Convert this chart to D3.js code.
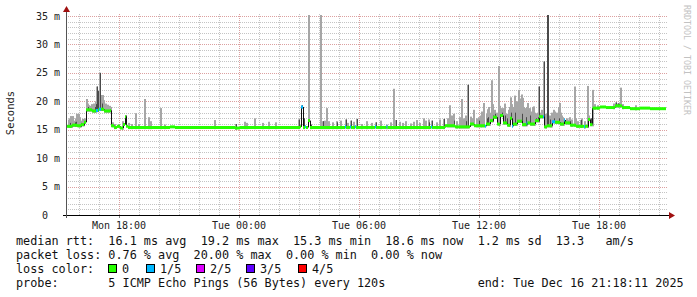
<!DOCTYPE html>
<html>
<head>
<meta charset="utf-8">
<script src="https://cdn.jsdelivr.net/npm/d3@7"></script>
<style>
  body { margin: 0; background: #fff; }
  text { font-family: "DejaVu Sans Mono", monospace; white-space: pre; }
</style>
</head>
<body>
<div id="chart"></div>
<script>
// time is in hours since Mon 00:00 (so 30 = Tue 06:00)
const timeStart = 15.35, timeEnd = 45.35;
const tickHours = [18, 24, 30, 36, 42];
const tickLabels = ["Mon 18:00", "Tue 00:00", "Tue 06:00", "Tue 12:00", "Tue 18:00"];
const yTicks = [0, 5, 10, 15, 20, 25, 30, 35];

// median rtt (ms), step series, with loss count out of 5 pings
const medianHours = [15.35, 15.65, 15.9, 16.1, 16.25, 16.35, 16.65, 16.85, 16.95, 17.0, 17.1, 17.25, 17.55, 17.6, 17.75, 17.9, 18.05, 18.2, 18.3, 18.35, 18.45,
  20.55, 20.8, 23.8, 24.05, 27.05, 27.1, 27.2, 27.3, 27.35, 27.45, 27.55, 29.3, 29.35, 29.55, 29.6, 29.8, 29.85,
  30.8, 30.85, 31.375, 31.425, 33.6, 33.65, 34.3, 34.8, 35.55, 35.75, 36.3, 36.35, 36.55, 36.7, 36.9, 37.05, 37.2, 37.4, 37.55, 37.65, 37.7, 37.9,
  38.15, 38.375, 38.425, 38.55, 38.8, 39.0, 39.2, 39.25, 39.4, 39.65, 39.8, 40.05, 40.25, 40.3, 40.55, 40.85, 41.25, 41.3, 41.45, 41.55,
  41.675, 42.05, 42.35, 42.8, 43.15, 43.55, 44.05, 44.55, 45.35];
const medianMs = [15.6, 15.8, 15.7, 15.9, 16.3, 18.5, 18.3, 18.4, 18.5, 18.6, 18.6, 18.3, 18.4, 15.7, 15.4, 15.6, 15.3, 15.9, 17.3, 15.6, 15.4,
  15.5, 15.4, 15.3, 15.4, 15.5, 19.0, 15.4, 15.5, 15.4, 16.6, 15.4, 15.5, 15.4, 15.5, 15.4, 15.5, 15.4,
  15.5, 15.4, 15.5, 15.4, 15.5, 15.4, 15.7, 15.5, 16.0, 15.7, 15.6, 16.0, 16.6, 17.2, 16.0, 17.5, 16.2, 15.8, 17.0, 15.6, 16.0, 16.5,
  15.9, 16.2, 16.2, 16.0, 16.6, 17.3, 17.3, 15.5, 15.7, 16.4, 16.3, 16.0, 16.7, 16.2, 15.8, 15.6, 15.5, 15.6, 16.8, 15.9,
  18.8, 19.0, 18.9, 19.2, 18.9, 18.7, 18.8, 18.7, 18.7];
const medianLoss = [0, 0, 0, 0, 0, 0, 0, 1, 0, 1, 0, 0, 0, 0, 0, 0, 0, 0, 0, 0, 0,
  0, 0, 0, 0, 0, 1, 0, 1, 0, 0, 0, 1, 0, 1, 0, 1, 0,
  1, 0, 1, 0, 1, 0, 0, 0, 0, 0, 1, 0, 0, 0, 0, 0, 0, 0, 0, 1, 0, 0,
  0, 1, 0, 0, 0, 0, 1, 0, 0, 1, 0, 0, 1, 0, 0, 0, 1, 0, 0, 0,
  0, 0, 0, 0, 0, 0, 0, 0, 0];

// smoke: highest ping (light grey) and upper inner pings (dark grey, 0 = none)
const smokeHours = [15.45, 15.55, 15.65, 15.75, 15.85, 15.95, 16.05, 16.15, 16.25, 16.35, 16.45, 16.55, 16.65, 16.75, 16.85, 16.9, 17.0, 17.05, 17.15, 17.25,
  17.35, 17.45, 17.55, 17.65, 17.75, 17.95, 18.15, 18.3, 18.45, 18.6, 18.8, 18.95, 19.25, 19.45, 19.55, 20.05, 20.25, 22.75, 23.8, 24.25,
  24.35, 24.75, 25.15, 25.45, 25.8, 26.95, 27.1, 27.2, 27.45, 27.55, 28.05, 28.15, 28.35, 28.45, 28.65, 29.05, 29.3, 29.55, 29.85, 30.1,
  30.35, 30.8, 31.05, 31.35, 31.7, 31.8, 32.0, 32.3, 32.55, 32.85, 33.0, 33.2, 33.6, 33.85, 34.2, 34.5, 34.6, 34.85, 35.1, 35.2,
  35.4, 35.55, 35.7, 35.85, 36.05, 36.2, 36.35, 36.5, 36.6, 36.75, 36.85, 36.95, 37.1, 37.2, 37.35, 37.45, 37.55, 37.7, 37.85, 37.95,
  38.05, 38.15, 38.3, 38.4, 38.55, 38.7, 38.8, 38.95, 39.05, 39.2, 39.4, 39.55, 39.7, 39.85, 40.0, 40.15, 40.25, 40.45, 40.75, 40.9,
  41.05, 41.25, 41.4, 41.55, 41.65, 41.75, 41.9, 42.8, 42.9, 43.05, 43.15, 43.8,
  15.5, 15.6, 15.7, 15.8, 16.0, 16.2, 16.4, 16.5, 16.6, 16.7, 16.8, 17.1, 17.2, 17.3, 17.4, 17.5,
  36.1, 36.4, 36.45, 36.65, 37.0, 37.25, 37.5, 37.6, 37.75, 37.8, 38.0, 38.1, 38.2, 38.25, 38.35, 38.5, 38.6, 38.65, 38.75, 38.85,
  38.9, 39.1, 39.3, 39.5, 39.6, 39.75, 39.9, 39.95, 40.05, 40.1, 40.2, 40.35, 40.5, 40.6, 40.8, 41.1, 41.45,
  34.0, 34.4, 34.7, 35.0, 35.3, 35.6, 35.95, 33.3, 33.45, 32.7, 32.15, 31.55, 30.6, 29.7, 29.4, 28.85, 28.25, 42.7, 42.95, 43.0];
const smokeMax = [16.8, 17.4, 17.4, 16.3, 17.8, 17.8, 16.6, 16.9, 17.0, 20.4, 19.3, 19.0, 18.9, 19.3, 22.6, 21.8, 25.0, 21.1, 21.1, 19.5,
  19.2, 19.0, 19.0, 16.3, 16.0, 16.0, 16.5, 17.5, 16.2, 16.0, 17.9, 16.0, 20.4, 17.2, 16.5, 18.8, 15.9, 16.7, 16.0, 16.4,
  16.2, 17.0, 16.2, 16.4, 16.3, 16.8, 19.3, 17.0, 35.5, 15.9, 35.5, 16.5, 18.8, 16.5, 16.3, 16.6, 16.8, 16.6, 16.9, 16.0,
  16.5, 16.3, 16.6, 15.9, 22.2, 16.7, 16.4, 16.5, 16.1, 16.7, 16.2, 17.0, 16.6, 16.3, 16.9, 19.3, 17.5, 16.5, 20.4, 17.0,
  22.9, 17.3, 18.5, 17.0, 17.5, 19.7, 17.8, 18.0, 23.7, 18.5, 18.0, 26.2, 18.8, 18.8, 17.8, 18.5, 20.7, 19.0, 20.0, 22.0,
  20.0, 20.6, 18.5, 19.7, 18.2, 19.1, 17.5, 22.6, 18.0, 27.0, 35.5, 17.2, 18.5, 18.0, 19.7, 17.2, 16.7, 16.8, 22.6, 16.5,
  16.7, 16.5, 22.7, 17.0, 22.0, 19.5, 19.3, 19.8, 19.6, 22.4, 19.5, 19.3,
  17.0, 17.0, 16.6, 17.0, 17.2, 16.8, 19.6, 19.2, 19.5, 19.6, 20.0, 20.5, 20.2, 19.6, 19.4, 19.2,
  18.2, 18.6, 19.0, 19.5, 19.2, 19.6, 19.0, 19.5, 21.0, 19.8, 20.5, 21.2, 19.0, 18.8, 19.0, 18.8, 18.0, 19.0, 18.0, 17.8,
  18.0, 18.5, 17.8, 17.5, 18.0, 18.2, 17.8, 19.0, 18.0, 17.5, 17.0, 17.0, 17.2, 16.8, 17.0, 17.0, 17.5,
  16.8, 17.0, 17.8, 17.2, 17.5, 17.0, 17.2, 16.6, 16.8, 16.4, 16.2, 16.3, 16.2, 16.4, 16.2, 16.5, 16.6, 19.6, 19.7, 19.5];
const smokeDark = [0, 0, 0, 16.3, 0, 0, 16.2, 0, 0, 0, 0, 0, 0, 19.0, 22.6, 21.8, 25.0, 0, 0, 0,
  0, 0, 0, 0, 0, 0, 0, 17.5, 0, 0, 0, 0, 0, 0, 0, 0, 0, 0, 16.0, 0,
  0, 0, 0, 0, 0, 16.8, 19.3, 17.0, 0, 15.9, 0, 16.5, 0, 0, 0, 0, 16.8, 16.6, 16.9, 0,
  0, 16.3, 0, 0, 0, 16.7, 0, 0, 0, 0, 0, 0, 16.6, 0, 16.9, 0, 0, 0, 0, 0,
  22.9, 0, 0, 0, 0, 0, 17.0, 0, 0, 17.8, 0, 0, 18.0, 0, 17.0, 0, 18.0, 0, 0, 0,
  0, 0, 17.2, 0, 0, 0, 17.0, 22.6, 0, 27.0, 35.5, 0, 17.0, 0, 0, 0, 16.7, 0, 0, 0,
  16.7, 0, 17.0, 17.0, 0, 0, 0, 19.8, 19.6, 0, 0, 0,
  16.2, 0, 0, 16.4, 0, 16.5, 19.0, 0, 0, 0, 19.5, 19.6, 0, 0, 0, 0,
  0, 17.2, 0, 17.5, 0, 17.5, 0, 0, 18.0, 0, 0, 17.8, 0, 0, 0, 17.5, 0, 0, 0, 0,
  17.2, 0, 0, 16.8, 0, 0, 0, 17.0, 0, 0, 0, 0, 16.5, 0, 0, 0, 16.8,
  0, 0, 16.6, 0, 16.5, 0, 16.6, 0, 16.3, 0, 0, 0, 0, 0, 0, 16.3, 0, 0, 19.5, 0];

const lossColors = ["#26ff00", "#00b8ff", "#dd00ff", "#5e00ff", "#ff0000"];
const lossNames = ["0", "1/5", "2/5", "3/5", "4/5"];

const legendLines = [
  "median rtt:  16.1 ms avg  19.2 ms max  15.3 ms min  18.6 ms now  1.2 ms sd  13.3   am/s",
  "packet loss: 0.76 % avg  20.00 % max  0.00 % min  0.00 % now",
  "loss color:",
  "probe:       5 ICMP Echo Pings (56 Bytes) every 120s             end: Tue Dec 16 21:18:11 2025"
];

const W = 697, H = 297;
const pL = 66, pR = 666, pT = 16, pB = 215;

const svg = d3.select("#chart").append("svg")
  .attr("width", W).attr("height", H);

svg.append("rect").attr("width", W).attr("height", H).attr("fill", "#fff");

const x = d3.scaleLinear().domain([timeStart, timeEnd]).range([pL, pR]);
const y = d3.scaleLinear().domain([0, 35]).range([pB, pT]);

// grid
const minorY = d3.range(1, 36).filter(v => v % 5 !== 0);
const minorX = d3.range(16, 46).filter(h => h % 6 !== 0);

svg.append("g")
  .selectAll("line").data(minorY).join("line")
  .attr("x1", pL).attr("x2", pR + 2)
  .attr("y1", d => Math.round(y(d)) + 0.5).attr("y2", d => Math.round(y(d)) + 0.5)
  .attr("stroke", "#c4c4c4").attr("stroke-dasharray", "1,1");
svg.append("g")
  .selectAll("line").data(minorX).join("line")
  .attr("x1", d => Math.round(x(d)) + 0.5).attr("x2", d => Math.round(x(d)) + 0.5)
  .attr("y1", pT - 2).attr("y2", pB)
  .attr("stroke", "#c4c4c4").attr("stroke-dasharray", "1,1");
svg.append("g")
  .selectAll("line").data(yTicks.slice(1)).join("line")
  .attr("x1", pL).attr("x2", pR + 2)
  .attr("y1", d => Math.round(y(d)) + 0.5).attr("y2", d => Math.round(y(d)) + 0.5)
  .attr("stroke", "#dca0a0").attr("stroke-dasharray", "1,1");
svg.append("g")
  .selectAll("line").data(tickHours).join("line")
  .attr("x1", d => Math.round(x(d)) + 0.5).attr("x2", d => Math.round(x(d)) + 0.5)
  .attr("y1", pT - 2).attr("y2", pB)
  .attr("stroke", "#dca0a0").attr("stroke-dasharray", "1,1");

// clip for the data
svg.append("clipPath").attr("id", "plot")
  .append("rect").attr("x", pL).attr("y", pT - 1).attr("width", pR - pL).attr("height", pB - pT + 1);
const plot = svg.append("g").attr("clip-path", "url(#plot)");

const medianAt = h => {
  const i = d3.bisectRight(medianHours, h) - 1;
  return medianMs[Math.max(0, i)];
};

// light smoke
plot.selectAll("rect.smoke").data(smokeHours).join("rect")
  .attr("class", "smoke")
  .attr("x", d => Math.round(x(d)))
  .attr("width", 2)
  .attr("y", (d, i) => y(smokeMax[i]))
  .attr("height", (d, i) => Math.max(0, y(medianAt(d) - 0.3) - y(smokeMax[i])))
  .attr("fill", "#a6a6a6");

// dark smoke
const darkIdx = d3.range(smokeHours.length).filter(i => smokeDark[i] > 0);
plot.selectAll("rect.dark").data(darkIdx).join("rect")
  .attr("class", "dark")
  .attr("x", i => Math.round(x(smokeHours[i])) + (smokeDark[i] > 30 ? 0 : 1))
  .attr("width", i => smokeDark[i] > 30 ? 2 : 1)
  .attr("y", i => y(smokeDark[i]))
  .attr("height", i => Math.max(0, y(medianAt(smokeHours[i]) - 0.2) - y(smokeDark[i])))
  .attr("fill", "#4a4a4a");

// median steps: vertical connectors then coloured segments
const segs = d3.range(medianHours.length - 1);
plot.selectAll("line.conn").data(segs.slice(1)).join("line")
  .attr("class", "conn")
  .attr("x1", i => Math.round(x(medianHours[i])) + 0.5)
  .attr("x2", i => Math.round(x(medianHours[i])) + 0.5)
  .attr("y1", i => y(medianMs[i - 1]))
  .attr("y2", i => y(medianMs[i]))
  .attr("stroke", "#111").attr("stroke-width", 1);
plot.selectAll("line.med").data(segs).join("line")
  .attr("class", "med")
  .attr("x1", i => x(medianHours[i]))
  .attr("x2", i => x(medianHours[i + 1]))
  .attr("y1", i => y(medianMs[i]))
  .attr("y2", i => y(medianMs[i]))
  .attr("stroke", i => lossColors[medianLoss[i]])
  .attr("stroke-width", 3);

// axes
const xAxis = d3.axisBottom(x).tickValues(tickHours).tickSize(3).tickFormat("");
svg.append("g").attr("transform", `translate(0,${pB})`).call(xAxis)
  .call(g => g.select(".domain").remove())
  .call(g => g.selectAll("line").attr("stroke", "#888"));

svg.append("line")
  .attr("x1", pL - 3).attr("x2", pR + 4).attr("y1", pB + 0.5).attr("y2", pB + 0.5)
  .attr("stroke", "#000");
svg.append("line")
  .attr("x1", pL + 0.5).attr("x2", pL + 0.5).attr("y1", pB + 3).attr("y2", pT - 4)
  .attr("stroke", "#555");
svg.append("path")
  .attr("d", `M${pR + 3},${pB - 3} L${pR + 9},${pB + 0.5} L${pR + 3},${pB + 4} Z`)
  .attr("fill", "#a01010");
svg.append("path")
  .attr("d", `M${pL - 3},${pT - 4} L${pL + 0.5},${pT - 10} L${pL + 4},${pT - 4} Z`)
  .attr("fill", "#a01010");

// tick labels
svg.append("g").selectAll("text").data(tickHours).join("text")
  .attr("x", d => x(d)).attr("y", 228.5)
  .attr("text-anchor", "middle").attr("font-size", 10).attr("fill", "#222")
  .text((d, i) => tickLabels[i]);

const yLab = svg.append("g").attr("font-size", 10).attr("fill", "#222");
yLab.selectAll("text.num").data(yTicks).join("text")
  .attr("class", "num")
  .attr("x", 48).attr("y", d => y(d) + 3.5).attr("text-anchor", "end")
  .text(d => d);
yLab.selectAll("text.unit").data(yTicks.slice(1)).join("text")
  .attr("class", "unit")
  .attr("x", 60).attr("y", d => y(d) + 3.5).attr("text-anchor", "end")
  .text("m");

svg.append("text")
  .attr("transform", "translate(14,113) rotate(-90)")
  .attr("text-anchor", "middle").attr("font-size", 10.5).attr("fill", "#222")
  .text("Seconds");

svg.append("text")
  .attr("transform", "translate(684,5) rotate(90)")
  .attr("text-anchor", "start").attr("font-size", 8.3).attr("fill", "#c2c2c2")
  .text("RRDTOOL / TOBI OETIKER");

// legend
const rowY = [245, 259, 273, 287];
svg.append("g").selectAll("text").data(legendLines).join("text")
  .attr("x", 16).attr("y", (d, i) => rowY[i])
  .attr("font-size", 11.8).attr("fill", "#111")
  .text(d => d);

const lossX = [108, 146, 196, 246, 298];
const lossLeg = svg.append("g");
lossLeg.selectAll("rect").data(lossNames).join("rect")
  .attr("x", (d, i) => lossX[i] + 0.5).attr("y", 264.5)
  .attr("width", 8).attr("height", 8)
  .attr("fill", (d, i) => lossColors[i]).attr("stroke", "#000");
lossLeg.selectAll("text").data(lossNames).join("text")
  .attr("x", (d, i) => lossX[i] + 14).attr("y", rowY[2])
  .attr("font-size", 11.8).attr("fill", "#111")
  .text(d => d);
</script>
</body>
</html>
